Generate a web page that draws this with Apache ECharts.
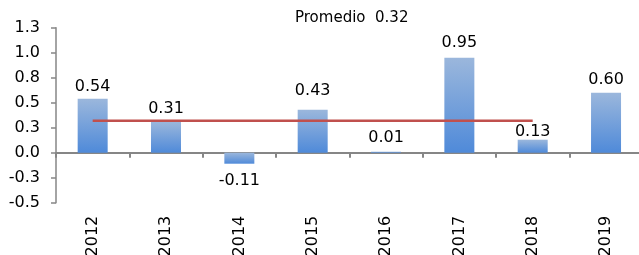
<!DOCTYPE html>
<html>
<head>
<meta charset="utf-8">
<script src="https://cdn.jsdelivr.net/npm/echarts@6/dist/echarts.min.js"></script>
<style>
  html, body { margin: 0; padding: 0; background: #fff; }
  #chart { width: 639px; height: 255px; }
</style>
</head>
<body>
<div id="chart"></div>
<script>
// datos
const years = ['2012', '2013', '2014', '2015', '2016', '2017', '2018', '2019']
const values = [0.54, 0.31, -0.11, 0.43, 0.01, 0.95, 0.13, 0.60]
const promedio = [0.32, 0.32, 0.32, 0.32, 0.32, 0.32, 0.32, null]
const promedioLabel = 'Promedio  0.32'

// separacion de cada etiqueta respecto de su barra (px)
const labelGap = [4, 5, 9, 11, 6, 7, 0, 5]

const chart = echarts.init(document.getElementById('chart'))

const barData = values.map((v, i) => ({
  value: v,
  label: { position: v < 0 ? 'bottom' : 'top', distance: labelGap[i] }
}))

const axisGray = '#868686'

const option = {
  animation: false,
  textStyle: { fontFamily: 'DejaVu Sans' },
  title: {
    text: promedioLabel,
    left: 295,
    top: 11,
    padding: 0,
    textStyle: { fontFamily: 'DejaVu Sans', fontSize: 15, fontWeight: 'normal', color: '#000' }
  },
  grid: {
    left: 56,
    top: 27.7,
    width: 586.7,
    height: 175,
    outerBoundsMode: 'none',
    containLabel: false
  },
  xAxis: [
    {
      // eje en cero con marcas
      type: 'category',
      data: years,
      axisLine: { onZero: true, lineStyle: { color: axisGray, width: 2 } },
      axisTick: { show: true, length: 5, lineStyle: { color: axisGray, width: 2 } },
      axisLabel: { show: false }
    },
    {
      // etiquetas al pie
      type: 'category',
      data: years,
      position: 'bottom',
      axisLine: { show: false, onZero: false },
      axisTick: { show: false },
      axisLabel: {
        rotate: 90,
        margin: 13,
        fontSize: 16,
        color: '#000',
        fontFamily: 'DejaVu Sans',
        interval: 0
      }
    }
  ],
  yAxis: {
    type: 'value',
    min: -0.5,
    max: 1.25,
    interval: 0.25,
    splitLine: { show: false },
    axisLine: { show: true, lineStyle: { color: axisGray, width: 1.5 } },
    axisTick: { show: true, length: 5, lineStyle: { color: axisGray, width: 1.5 } },
    axisLabel: {
      margin: 16,
      fontSize: 16,
      color: '#000',
      fontFamily: 'DejaVu Sans',
      formatter: v => v.toFixed(1)
    }
  },
  series: [
    {
      type: 'bar',
      data: barData,
      barWidth: 30,
      itemStyle: {
        color: new echarts.graphic.LinearGradient(0, 0, 0, 1, [
          { offset: 0, color: '#9bb7dc' },
          { offset: 1, color: '#4f8ad9' }
        ])
      },
      label: {
        show: true,
        fontSize: 16,
        color: '#000',
        fontFamily: 'DejaVu Sans',
        formatter: p => p.value.toFixed(2)
      }
    },
    {
      type: 'line',
      data: promedio,
      showSymbol: false,
      symbol: 'none',
      lineStyle: { color: '#c0504d', width: 2.5 },
      z: 3
    }
  ]
}

chart.setOption(option)
</script>
</body>
</html>
